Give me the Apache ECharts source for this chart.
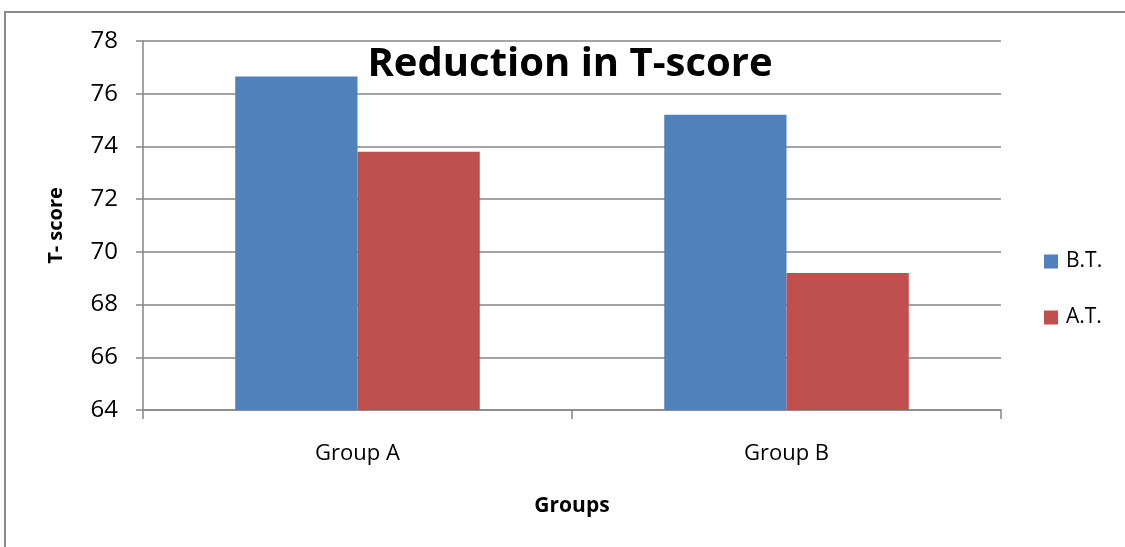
<!DOCTYPE html>
<html>
<head>
<meta charset="utf-8">
<script src="https://cdn.jsdelivr.net/npm/echarts@6/dist/echarts.min.js"></script>
<style>
  html, body { margin: 0; padding: 0; background: #fff; }
  #chart { width: 1125px; height: 547px; }
</style>
</head>
<body>
<div id="chart"></div>
<script>
// T-score before and after treatment, per group
const categories = ['Group A', 'Group B'];
const seriesNames = ['B.T.', 'A.T.'];
const beforeTreatment = [76.65, 75.2];
const afterTreatment = [73.8, 69.2];
const yTicks = { min: 64, max: 78, step: 2 };

const FONT = '"Open Sans", "Noto Sans", sans-serif';
const chart = echarts.init(document.getElementById('chart'), null, { renderer: 'canvas' });

chart.setOption({
  backgroundColor: '#ffffff',
  animation: false,
  title: {
    text: 'Reduction in T-score',
    left: 570,
    top: 45,
    textAlign: 'center',
    padding: 0,
    textStyle: { fontFamily: FONT, fontWeight: 'bold', fontSize: 40, color: '#000' }
  },
  graphic: [{
    type: 'rect',
    shape: { x: 5, y: 12, width: 1200, height: 700 },
    style: { fill: 'none', stroke: '#8c8c8c', lineWidth: 2 },
    z: -1
  }],
  legend: {
    orient: 'vertical',
    left: 1044,
    top: 251,
    padding: 0,
    itemWidth: 14,
    itemHeight: 14,
    itemGap: 35,
    icon: 'rect',
    textStyle: { fontFamily: FONT, fontSize: 21, color: '#000', padding: [0, 0, 0, 3] },
    data: seriesNames
  },
  grid: { left: 143, right: 124, top: 41, bottom: 137, containLabel: false },
  xAxis: {
    type: 'category',
    data: categories,
    name: 'Groups',
    nameLocation: 'middle',
    nameGap: 86,
    nameTextStyle: { fontFamily: FONT, fontWeight: 'bold', fontSize: 21, color: '#000' },
    axisLine: { lineStyle: { color: '#868686', width: 1.5 } },
    axisTick: { show: true, length: 9, alignWithLabel: false, lineStyle: { color: '#868686', width: 1.5 } },
    axisLabel: { margin: 33, fontFamily: FONT, fontSize: 22, color: '#000' },
    splitLine: { show: false }
  },
  yAxis: {
    type: 'value',
    min: yTicks.min,
    max: yTicks.max,
    interval: yTicks.step,
    name: 'T- score',
    nameLocation: 'middle',
    nameGap: 77,
    nameRotate: 90,
    nameTextStyle: { fontFamily: FONT, fontWeight: 'bold', fontSize: 20, color: '#000' },
    axisLine: { show: true, lineStyle: { color: '#868686', width: 1.5 } },
    axisTick: { show: true, length: 7, lineStyle: { color: '#868686', width: 1.5 } },
    axisLabel: { margin: 25, fontFamily: FONT, fontSize: 24, color: '#000' },
    splitLine: { show: true, lineStyle: { color: '#868686', width: 1.5 } }
  },
  series: [
    {
      name: seriesNames[0],
      type: 'bar',
      data: beforeTreatment,
      barGap: '0%',
      barCategoryGap: '43%',
      itemStyle: { color: '#4F81BD' }
    },
    {
      name: seriesNames[1],
      type: 'bar',
      data: afterTreatment,
      itemStyle: { color: '#C0504D' }
    }
  ]
});
</script>
</body>
</html>
